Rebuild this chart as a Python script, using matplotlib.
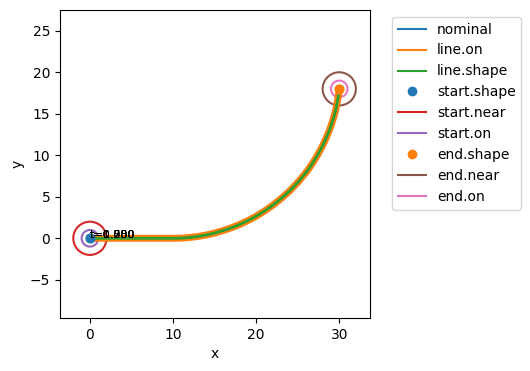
import numpy as np
import matplotlib
matplotlib.use("Agg")
import matplotlib.pyplot as plt
from matplotlib.patches import Circle
from matplotlib.lines import Line2D

# Trayectoria: tramo recto y luego curva hasta (30, 18)
path_x = [0, 10, 11, 12, 13, 14, 15, 16, 17, 18, 19, 20, 21, 22, 23, 24, 25,
          26, 26.5, 27, 27.5, 28, 28.4, 28.8, 29.1, 29.4, 29.6, 29.8, 29.9, 30]
path_y = [0, 0, 0.02, 0.10, 0.22, 0.40, 0.63, 0.92, 1.26, 1.66, 2.13, 2.66,
          3.28, 3.98, 4.78, 5.68, 6.72, 7.93, 8.61, 9.38, 10.22, 11.16, 12.02,
          12.99, 13.83, 14.80, 15.57, 16.63, 17.20, 18.0]

start_pt = (0, 0)
end_pt = (30, 18)
near_radius = 2.0
on_radius = 1.0

labels = ["t=0.000", "t=0.250", "t=0.500", "t=0.750", "t=1.000"]

fig = plt.figure(figsize=(5.3, 3.71), dpi=100)
ax = fig.add_axes([60 / 530, 53 / 371, 310 / 530, 308 / 371])

ax.plot(path_x, path_y, color="C0", label="nominal")
ax.plot(path_x, path_y, color="C1", lw=5, label="line.on")
ax.plot(path_x, path_y, color="C2", lw=2, label="line.shape")

ax.scatter([start_pt[0]], [start_pt[1]], color="C0", s=40, zorder=3)
ax.add_patch(Circle(start_pt, near_radius, fill=False, color="C3", lw=1.5))
ax.add_patch(Circle(start_pt, on_radius, fill=False, color="C4", lw=1.5))
ax.scatter([end_pt[0]], [end_pt[1]], color="C1", s=40, zorder=3)
ax.add_patch(Circle(end_pt, near_radius, fill=False, color="C5", lw=1.5))
ax.add_patch(Circle(end_pt, on_radius, fill=False, color="C6", lw=1.5))

for s in labels:
    ax.text(start_pt[0], start_pt[1], s, fontsize=8)

ax.set_xlim(-3.6, 33.7)
ax.set_ylim(-9.6, 27.5)
ax.set_xlabel("x")
ax.set_ylabel("y")

handles = [
    Line2D([], [], color="C0", label="nominal"),
    Line2D([], [], color="C1", label="line.on"),
    Line2D([], [], color="C2", label="line.shape"),
    Line2D([], [], color="C0", marker="o", ls="", label="start.shape"),
    Line2D([], [], color="C3", label="start.near"),
    Line2D([], [], color="C4", label="start.on"),
    Line2D([], [], color="C1", marker="o", ls="", label="end.shape"),
    Line2D([], [], color="C5", label="end.near"),
    Line2D([], [], color="C6", label="end.on"),
]
ax.legend(handles=handles, loc="upper left", bbox_to_anchor=(1.05, 1))

fig.savefig("out.png", dpi=100)
